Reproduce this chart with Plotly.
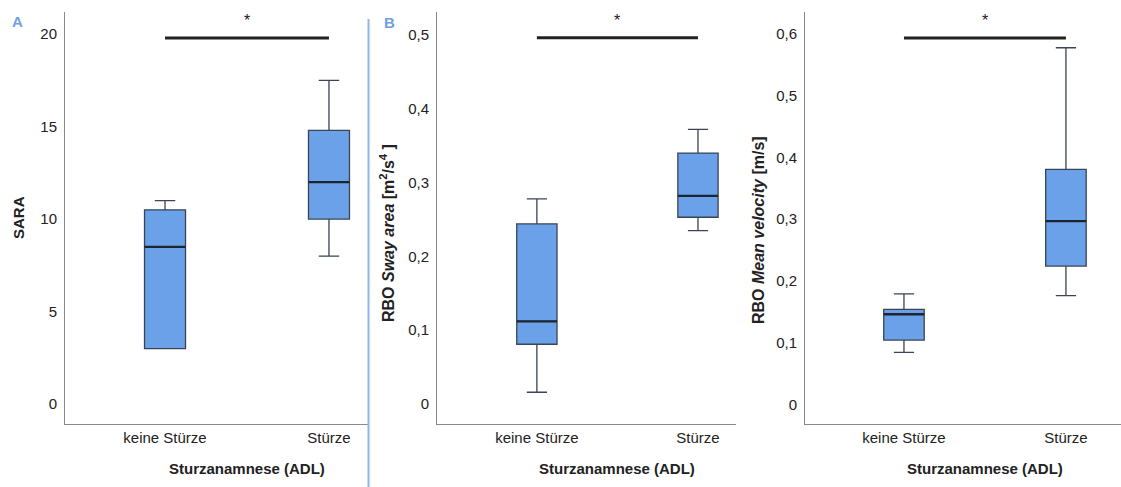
import plotly.graph_objects as go

categories = ["keine Stürze", "Stürze"]

# Panel A: SARA
sara_lower = [3.0, 8.0]
sara_q1 = [3.0, 10.0]
sara_median = [8.5, 12.0]
sara_q3 = [10.5, 14.8]
sara_upper = [11.0, 17.5]

# Panel B: RBO Sway area
sway_lower = [0.016, 0.235]
sway_q1 = [0.081, 0.253]
sway_median = [0.112, 0.282]
sway_q3 = [0.244, 0.340]
sway_upper = [0.278, 0.372]

# Panel C: RBO Mean velocity
vel_lower = [0.084, 0.176]
vel_q1 = [0.104, 0.224]
vel_median = [0.146, 0.297]
vel_q3 = [0.154, 0.381]
vel_upper = [0.179, 0.578]

sig_levels = [19.8, 0.496, 0.594]
sig_text = ["*", "*", "*"]

y_ranges = [[-1.08, 21.2], [-0.027, 0.531], [-0.032, 0.636]]
y_ticks = [[0, 5, 10, 15, 20], [0, 0.1, 0.2, 0.3, 0.4, 0.5], [0, 0.1, 0.2, 0.3, 0.4, 0.5, 0.6]]
y_ticktext = [["0", "5", "10", "15", "20"],
              ["0", "0,1", "0,2", "0,3", "0,4", "0,5"],
              ["0", "0,1", "0,2", "0,3", "0,4", "0,5", "0,6"]]
y_titles = ["<b>SARA</b>",
            "<b>RBO <i>Sway area</i> [m<sup>2</sup>/s<sup>4</sup> ]</b>",
            "<b>RBO <i>Mean velocity</i> [m/s]</b>"]
y_title_sizes = [15, 16, 16]
y_title_centers = [218, 233, 230]
x_title = "<b>Sturzanamnese (ADL)</b>"

W, H = 1121, 487
FONT = "Liberation Sans, Arial, Helvetica, sans-serif"
BOX_FILL = "#6aa1e8"
BOX_LINE = "#3a4454"
MED_LINE = "#1c2530"
BOX_W = 0.25

# pixel layout of plot areas
px_x = [(65, 368), (437, 736), (805, 1121)]
px_y = (12, 424)
x_ranges = [[-0.61, 1.238], [-0.62, 1.236], [-0.611, 1.34]]

panels = [
    (sara_lower, sara_q1, sara_median, sara_q3, sara_upper),
    (sway_lower, sway_q1, sway_median, sway_q3, sway_upper),
    (vel_lower, vel_q1, vel_median, vel_q3, vel_upper),
]

pos = list(range(len(categories)))

fig = go.Figure()
annotations = []
ydom = [(H - px_y[1]) / H, (H - px_y[0]) / H]

for i, (lo, q1, med, q3, up) in enumerate(panels):
    xa = "x" if i == 0 else f"x{i+1}"
    ya = "y" if i == 0 else f"y{i+1}"
    fig.add_trace(go.Box(
        x=pos, lowerfence=lo, q1=q1, median=med, q3=q3, upperfence=up,
        fillcolor=BOX_FILL, line=dict(color=BOX_LINE, width=1.3),
        whiskerwidth=0.5, width=BOX_W, boxpoints=False, hoverinfo="skip",
        xaxis=xa, yaxis=ya, showlegend=False,
    ))
    # thicker median lines
    for j in pos:
        fig.add_trace(go.Scatter(
            x=[j - BOX_W / 2, j + BOX_W / 2], y=[med[j], med[j]], mode="lines",
            line=dict(color=MED_LINE, width=2.4), xaxis=xa, yaxis=ya,
            showlegend=False, hoverinfo="skip",
        ))
    # significance bar
    fig.add_trace(go.Scatter(
        x=pos, y=[sig_levels[i], sig_levels[i]], mode="lines",
        line=dict(color="#222222", width=3), xaxis=xa, yaxis=ya,
        showlegend=False, hoverinfo="skip",
    ))
    annotations.append(dict(
        x=sum(pos) / len(pos), y=sig_levels[i], xref=xa, yref=ya, text=sig_text[i],
        showarrow=False, yshift=17, font=dict(size=16, color="#222222", family=FONT),
    ))
    x0, x1 = px_x[i]
    dom = [x0 / W, x1 / W]
    axis_common = dict(showline=True, linecolor="#8a8a8a", linewidth=1,
                       showgrid=False, zeroline=False, ticks="", mirror=False,
                       tickfont=dict(size=15, color="#222222", family=FONT))
    fig.layout[f"xaxis{'' if i == 0 else i+1}"] = dict(
        domain=dom, anchor=ya, range=x_ranges[i], tickvals=pos,
        ticktext=categories, **axis_common)
    fig.layout[f"yaxis{'' if i == 0 else i+1}"] = dict(
        domain=ydom, anchor=xa, range=y_ranges[i], tickvals=y_ticks[i],
        ticktext=y_ticktext[i], ticklabelstandoff=4, **axis_common)
    # y title
    ytx = [18, 387, 758][i]
    annotations.append(dict(
        x=ytx / W, y=(H - y_title_centers[i]) / H, xref="paper", yref="paper",
        text=y_titles[i], textangle=-90, showarrow=False,
        xanchor="center", yanchor="middle",
        font=dict(size=y_title_sizes[i], color="#222222", family=FONT),
    ))
    # x title
    xtx = [247, 617, 985][i]
    annotations.append(dict(
        x=xtx / W, y=(H - 468) / H, xref="paper", yref="paper", text=x_title,
        showarrow=False, xanchor="center", yanchor="middle",
        font=dict(size=15, color="#222222", family=FONT),
    ))

# panel labels
for lab, lx, ly in [("A", 17, 21), ("B", 389, 23)]:
    annotations.append(dict(
        x=lx / W, y=(H - ly) / H, xref="paper", yref="paper", text=f"<b>{lab}</b>",
        showarrow=False, xanchor="center", yanchor="middle",
        font=dict(size=15, color="#6e9fe2", family=FONT),
    ))

fig.update_layout(
    width=W, height=H, margin=dict(l=0, r=0, t=0, b=0),
    paper_bgcolor="white", plot_bgcolor="white",
    annotations=annotations,
    shapes=[dict(type="line", xref="paper", yref="paper",
                 x0=368.5 / W, x1=368.5 / W, y0=0, y1=(H - 19) / H,
                 line=dict(color="#8fb4e6", width=2))],
    font=dict(family=FONT),
)

fig.write_html("out.html")
